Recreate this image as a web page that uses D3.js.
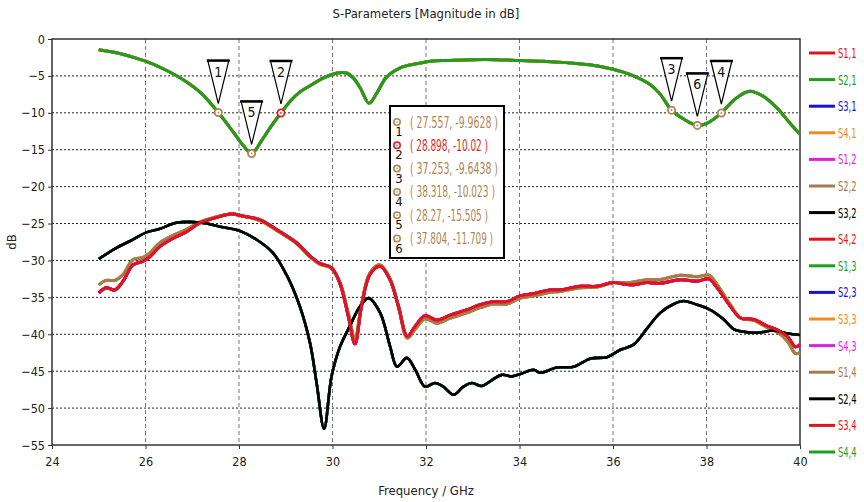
<!DOCTYPE html>
<html><head><meta charset="utf-8">
<script src="https://cdn.jsdelivr.net/npm/d3@7"></script>
<style>
body{margin:0;background:#fff;}
svg{display:block;}
text{font-family:"DejaVu Sans Condensed","DejaVu Sans",sans-serif;font-stretch:condensed;}
</style></head>
<body>
<svg id="c" width="864" height="502"></svg>
<script>
// ---------- data ----------
const title = "S-Parameters [Magnitude in dB]";
const xLabel = "Frequency / GHz";
const yLabel = "dB";
const xTicks = [24, 26, 28, 30, 32, 34, 36, 38, 40];
const yTicks = [0, -5, -10, -15, -20, -25, -30, -35, -40, -45, -50, -55];

// reflection curve (S1,1 / S2,2 / S3,3 / S4,4)
const reflF = [25, 25.4, 25.8, 26, 26.4, 26.8, 27.2, 27.557, 27.9, 28.1, 28.27, 28.5, 28.7, 28.898, 29.1, 29.3, 29.5, 29.8, 30.1, 30.3, 30.45, 30.6, 30.78, 30.95, 31.15, 31.45, 31.8, 32.1, 32.5, 33, 33.5, 34, 34.5, 35, 35.5, 36, 36.4, 36.8, 37, 37.253, 37.5, 37.804, 38.05, 38.318, 38.6, 38.9, 39.2, 39.5, 39.8, 40];
const reflV = [-1.45, -1.9, -2.6, -3.0, -4.1, -5.5, -7.4, -9.96, -12.8, -14.5, -15.5, -13.6, -11.7, -10.02, -8.4, -7.2, -6.4, -5.3, -4.6, -4.6, -5.3, -6.7, -8.7, -7.3, -5.2, -3.9, -3.35, -3.0, -2.9, -2.8, -2.8, -2.9, -3.0, -3.2, -3.5, -4.1, -4.9, -6.2, -7.4, -9.64, -10.8, -11.71, -11.3, -10.02, -8.2, -7.1, -7.7, -9.3, -11.5, -12.9];

// coupling curves
const coupF = [25.0, 25.16, 25.34, 25.52, 25.73, 25.95, 26.09, 26.31, 26.59, 26.88, 27.16, 27.45, 27.84, 28.09, 28.45, 28.8, 29.23, 29.5, 29.73, 29.98, 30.16, 30.34, 30.48, 30.62, 30.8, 31.02, 31.23, 31.41, 31.6, 31.77, 31.98, 32.23, 32.52, 32.87, 33.16, 33.44, 33.73, 34.01, 34.3, 34.66, 34.87, 35.3, 35.66, 36.01, 36.37, 36.73, 37.01, 37.44, 37.8, 38.05, 38.23, 38.51, 38.73, 39.01, 39.3, 39.51, 39.73, 39.9, 40];
const redV = [-34.4, -33.7, -34.0, -32.8, -30.6, -30.1, -29.5, -28.1, -27.0, -26.1, -24.9, -24.3, -23.7, -24.0, -24.5, -25.8, -27.6, -29.3, -30.4, -31.0, -33.1, -37.6, -41.3, -36.2, -31.9, -30.8, -32.6, -36.2, -40.3, -38.9, -37.5, -38.1, -37.4, -36.7, -36.0, -35.6, -35.6, -34.8, -34.5, -34.0, -34.0, -33.5, -33.5, -33.0, -33.3, -33.0, -33.1, -32.6, -32.8, -32.5, -33.7, -36.2, -37.8, -38.0, -38.9, -39.4, -40.3, -41.7, -41.4];
const brownV = [-33.3, -32.7, -32.7, -31.9, -29.9, -29.6, -29.0, -27.6, -26.6, -25.8, -24.8, -24.2, -23.7, -24.0, -24.6, -25.9, -27.7, -29.4, -30.5, -31.1, -33.0, -37.2, -40.6, -36.0, -31.7, -30.6, -32.5, -36.2, -40.5, -39.3, -37.9, -38.5, -37.8, -37.1, -36.4, -35.9, -35.9, -35.1, -34.8, -34.3, -34.2, -33.7, -33.6, -33.0, -33.0, -32.6, -32.6, -32.0, -32.2, -32.0, -33.3, -36.0, -37.8, -38.1, -39.1, -39.7, -40.9, -42.6, -42.5];

const blackF = [25.0, 25.38, 25.66, 26.02, 26.31, 26.66, 27.16, 27.66, 28.02, 28.38, 28.73, 29.02, 29.3, 29.52, 29.66, 29.82, 29.98, 30.16, 30.37, 30.59, 30.77, 31.02, 31.23, 31.38, 31.59, 31.77, 31.98, 32.19, 32.37, 32.59, 32.8, 32.98, 33.19, 33.41, 33.62, 33.84, 34.05, 34.3, 34.44, 34.8, 35.16, 35.51, 35.87, 36.16, 36.44, 36.73, 37.01, 37.3, 37.51, 37.8, 38.08, 38.37, 38.58, 38.73, 39.08, 39.44, 39.73, 40];
const blackV = [-29.8, -28.3, -27.4, -26.2, -25.7, -24.9, -24.85, -25.5, -26.0, -27.2, -29.0, -32.0, -36.2, -41.2, -46.6, -52.8, -45.7, -41.7, -38.9, -36.2, -35.1, -37.1, -41.6, -44.4, -43.2, -44.8, -47.1, -46.6, -47.1, -48.2, -47.1, -46.6, -47.0, -46.2, -45.5, -45.7, -45.3, -44.8, -45.2, -44.5, -44.4, -43.3, -43.1, -42.1, -41.4, -39.2, -37.1, -35.9, -35.5, -36.0, -36.7, -38.0, -39.3, -39.6, -39.8, -39.5, -39.9, -40.1];

const seriesNames  = ["S1,1","S2,1","S3,1","S4,1","S1,2","S2,2","S3,2","S4,2","S1,3","S2,3","S3,3","S4,3","S1,4","S2,4","S3,4","S4,4"];
const seriesColors = ["#e3131b","#1e9e1e","#1414d2","#f08b22","#e01fe0","#a87b4d","#000000","#e3131b","#1e9e1e","#1414d2","#f08b22","#e01fe0","#a87b4d","#000000","#e3131b","#1e9e1e"];
const seriesCurve  = ["refl","brown","black","brown","red","refl","black","red","black","red","refl","red","brown","black","red","refl"];

const markerIds = ["1","2","3","4","5","6"];
const markerF = [27.557, 28.898, 37.253, 38.318, 28.27, 37.804];
const markerV = [-9.9628, -10.02, -9.6438, -10.023, -15.505, -11.709];
const markerText = ["( 27.557, -9.9628 )","( 28.898, -10.02 )","( 37.253, -9.6438 )","( 38.318, -10.023 )","( 28.27, -15.505 )","( 37.804, -11.709 )"];
const markerColors = ["#b08452","#e01f1f","#b08452","#b08452","#b08452","#b08452"];

// ---------- build ----------
const curves = {
  refl:  reflF.map((f,i)=>[f, reflV[i]]),
  red:   coupF.map((f,i)=>[f, redV[i]]),
  brown: coupF.map((f,i)=>[f, brownV[i]]),
  black: blackF.map((f,i)=>[f, blackV[i]])
};

const svg = d3.select("#c");
const m = {l:52, t:39, r:800, b:445};
const x = d3.scaleLinear().domain([24,40]).range([m.l, m.r]);
const y = d3.scaleLinear().domain([0,-55]).range([m.t, m.b]);

function fit(sel, w){ sel.attr("textLength", w).attr("lengthAdjust","spacingAndGlyphs"); return sel; }

// gridlines
const g = svg.append("g");
g.selectAll("line.v").data(xTicks.slice(1,-1)).join("line")
  .attr("x1",d=>x(d)).attr("x2",d=>x(d)).attr("y1",m.t).attr("y2",m.b)
  .attr("stroke","#777").attr("stroke-width",1).attr("stroke-dasharray","4,3");
g.selectAll("line.h").data(yTicks.slice(1,-1)).join("line")
  .attr("x1",m.l).attr("x2",m.r).attr("y1",d=>y(d)).attr("y2",d=>y(d))
  .attr("stroke","#222").attr("stroke-width",1).attr("stroke-dasharray","2,2");

// axes
const xAxis = svg.append("g").attr("transform",`translate(0,${m.b})`)
  .call(d3.axisBottom(x).tickValues(xTicks).tickFormat(d3.format("d")).tickSize(4).tickPadding(8));
const yAxis = svg.append("g").attr("transform",`translate(${m.l},0)`)
  .call(d3.axisLeft(y).tickValues(yTicks).tickFormat(d3.format("d")).tickSize(4).tickPadding(3));
[xAxis,yAxis].forEach(a=>{
  a.select(".domain").remove();
  a.selectAll("line").attr("stroke","#333");
  a.selectAll("text").attr("font-size",12.5).attr("fill","#222")
   .style("font-family",'"DejaVu Sans Condensed","DejaVu Sans",sans-serif').style("font-stretch","condensed");
});
// frame
svg.append("rect").attr("x",m.l).attr("y",m.t).attr("width",m.r-m.l).attr("height",m.b-m.t)
  .attr("fill","none").attr("stroke","#333").attr("stroke-width",1.5);

// curves
const line = d3.line().x(d=>x(d[0])).y(d=>y(d[1])).curve(d3.curveCatmullRom.alpha(0.5));
const cg = svg.append("g");
seriesNames.forEach((n,i)=>{
  const c = seriesCurve[i];
  cg.append("path").datum(curves[c]).attr("d",line)
    .attr("fill","none").attr("stroke",seriesColors[i])
    .attr("stroke-width", c==="black"?2.6:3).attr("stroke-linejoin","round");
});

// marker flags on curve
const mg = svg.append("g");
markerIds.forEach((id,i)=>{
  const px = x(markerF[i]), py = y(markerV[i]);
  const top = py-52, apex = py-9, hw = 10.5;
  mg.append("path").attr("d",`M${px-hw},${top}L${px+hw},${top}L${px},${apex}Z`)
    .attr("fill","#fff").attr("stroke","#000").attr("stroke-width",1.2);
  mg.append("line").attr("x1",px-hw-1).attr("x2",px+hw+1).attr("y1",top).attr("y2",top)
    .attr("stroke","#000").attr("stroke-width",2.5);
  mg.append("text").attr("x",px).attr("y",top+16).attr("text-anchor","middle")
    .attr("font-size",14).attr("fill","#111").text(id);
  mg.append("circle").attr("cx",px).attr("cy",py).attr("r",3.6)
    .attr("fill","#fff").attr("stroke",markerColors[i]).attr("stroke-width",1.8);
  mg.append("circle").attr("cx",px).attr("cy",py).attr("r",0.9).attr("fill",markerColors[i]);
});

// marker readout box
const bx = 390, by = 106, bw = 114, bh = 152;
const bg = svg.append("g");
bg.append("rect").attr("x",bx).attr("y",by).attr("width",bw).attr("height",bh)
  .attr("fill","#fff").attr("stroke","#000").attr("stroke-width",2);
const boxW = [88, 78, 88, 85, 78, 83];
markerIds.forEach((id,i)=>{
  const ly = by + 16 + i*23.3;
  bg.append("circle").attr("cx",bx+7).attr("cy",ly).attr("r",3.2)
    .attr("fill","#fff").attr("stroke",markerColors[i]).attr("stroke-width",1.6);
  bg.append("circle").attr("cx",bx+7).attr("cy",ly).attr("r",0.8).attr("fill",markerColors[i]);
  bg.append("text").attr("x",bx+9).attr("y",ly+14).attr("text-anchor","middle")
    .attr("font-size",13).attr("fill","#111").text(id);
  fit(bg.append("text").attr("x",bx+20).attr("y",ly+5.5).attr("font-size",15.5)
    .attr("fill",markerColors[i]).text(markerText[i]), boxW[i]);
});

// legend (text horizontally compressed via transform so its box stays inside the page)
const lg = svg.append("g");
seriesNames.forEach((n,i)=>{
  const ly = 53 + i*26.6;
  lg.append("line").attr("x1",809).attr("x2",835).attr("y1",ly).attr("y2",ly)
    .attr("stroke",seriesColors[i]).attr("stroke-width",3);
  lg.append("g").attr("transform",`translate(838,${ly+5}) scale(0.64,1)`)
    .append("text").attr("x",0).attr("y",0).attr("font-size",14.5)
    .attr("fill",seriesColors[i]).text(n);
});

// titles
svg.append("text").attr("x",426).attr("y",18).attr("text-anchor","middle")
  .attr("font-size",13).attr("fill","#222").text(title);
svg.append("text").attr("x",426).attr("y",495).attr("text-anchor","middle")
  .attr("font-size",13).attr("fill","#222").text(xLabel);
svg.append("text").attr("transform","translate(16,242) rotate(-90)").attr("text-anchor","middle")
  .attr("font-size",13).attr("fill","#222").text(yLabel);
</script>
</body></html>
